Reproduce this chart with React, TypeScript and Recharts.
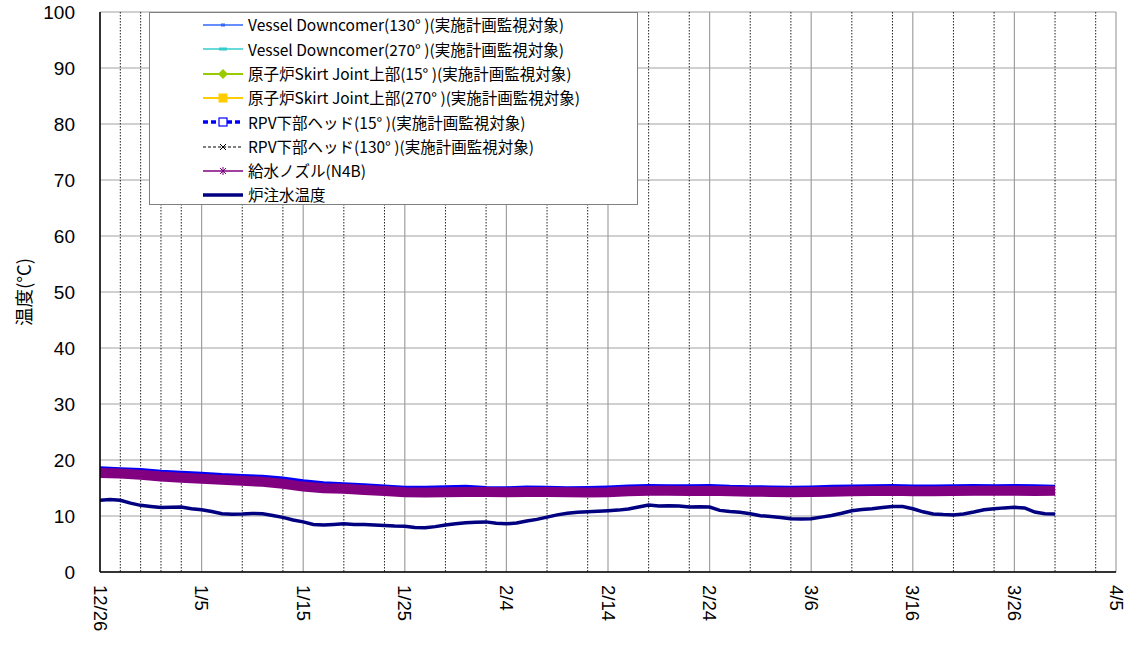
import React from 'react';
import { LineChart, Line, XAxis, YAxis, CartesianGrid, Legend } from 'recharts';

// x axis: days from 12/26
const majorTicks = [0, 10, 20, 30, 40, 50, 60, 70, 80, 90, 100];
const tickLabels = ['12/26', '1/5', '1/15', '1/25', '2/4', '2/14', '2/24', '3/6', '3/16', '3/26', '4/5'];
const minorTicks = Array.from({ length: 50 }, (_, i) => i * 2).filter((d) => d % 10 !== 0);
const yTicks = [0, 10, 20, 30, 40, 50, 60, 70, 80, 90, 100];

const seriesNames = [
  'Vessel Downcomer(130° )(実施計画監視対象)',
  'Vessel Downcomer(270° )(実施計画監視対象)',
  '原子炉Skirt Joint上部(15° )(実施計画監視対象)',
  '原子炉Skirt Joint上部(270° )(実施計画監視対象)',
  'RPV下部ヘッド(15° )(実施計画監視対象)',
  'RPV下部ヘッド(130° )(実施計画監視対象)',
  '給水ノズル(N4B)',
  '炉注水温度',
];

// every 2 days, 12/26 .. 3/30
const vessel130 = [18.1, 17.95, 17.75, 17.45, 17.3, 17.1, 16.9, 16.75, 16.55, 16.25, 15.75, 15.4, 15.25, 15.05, 14.85, 14.65, 14.6, 14.7, 14.75, 14.6, 14.55, 14.65, 14.65, 14.55, 14.6, 14.65, 14.8, 14.9, 14.9, 14.85, 14.9, 14.8, 14.75, 14.7, 14.65, 14.7, 14.75, 14.8, 14.85, 14.9, 14.8, 14.8, 14.85, 14.9, 14.9, 14.9, 14.85, 14.85];
const vessel270 = [17.9, 17.8, 17.55, 17.25, 17.05, 16.85, 16.65, 16.5, 16.3, 15.95, 15.45, 15.15, 15.05, 14.85, 14.65, 14.45, 14.4, 14.45, 14.5, 14.5, 14.45, 14.5, 14.5, 14.45, 14.4, 14.45, 14.6, 14.7, 14.7, 14.65, 14.7, 14.6, 14.55, 14.5, 14.45, 14.5, 14.55, 14.6, 14.65, 14.7, 14.6, 14.6, 14.65, 14.7, 14.7, 14.7, 14.65, 14.7];
const skirt15 = [17.5, 17.4, 17.15, 16.85, 16.65, 16.45, 16.25, 16.1, 15.9, 15.55, 15.05, 14.75, 14.65, 14.45, 14.25, 14.05, 14.0, 14.05, 14.1, 14.1, 14.05, 14.1, 14.1, 14.05, 14.0, 14.05, 14.2, 14.3, 14.3, 14.25, 14.3, 14.2, 14.15, 14.1, 14.05, 14.1, 14.15, 14.2, 14.25, 14.3, 14.2, 14.2, 14.25, 14.3, 14.3, 14.3, 14.25, 14.3];
const skirt270 = [17.35, 17.25, 17.0, 16.7, 16.5, 16.3, 16.1, 15.95, 15.75, 15.4, 14.9, 14.6, 14.5, 14.3, 14.1, 13.9, 13.85, 13.9, 13.95, 13.95, 13.9, 13.95, 13.95, 13.9, 13.85, 13.9, 14.05, 14.15, 14.15, 14.1, 14.15, 14.05, 14.0, 13.95, 13.9, 13.95, 14.0, 14.05, 14.1, 14.15, 14.05, 14.05, 14.1, 14.15, 14.15, 14.15, 14.1, 14.15];
const rpv15 = [18.55, 18.4, 18.25, 17.95, 17.75, 17.6, 17.35, 17.2, 17.05, 16.75, 16.25, 15.9, 15.7, 15.55, 15.3, 15.1, 15.1, 15.2, 15.25, 15.05, 15.0, 15.15, 15.1, 15.0, 15.05, 15.15, 15.3, 15.4, 15.35, 15.35, 15.4, 15.25, 15.2, 15.15, 15.1, 15.15, 15.25, 15.3, 15.35, 15.4, 15.3, 15.3, 15.35, 15.4, 15.35, 15.4, 15.35, 15.25];
const rpv130 = [17.8, 17.7, 17.45, 17.15, 16.95, 16.75, 16.55, 16.4, 16.2, 15.85, 15.35, 15.05, 14.95, 14.75, 14.55, 14.35, 14.3, 14.35, 14.4, 14.4, 14.35, 14.4, 14.4, 14.35, 14.3, 14.35, 14.5, 14.6, 14.6, 14.55, 14.6, 14.5, 14.45, 14.4, 14.35, 14.4, 14.45, 14.5, 14.55, 14.6, 14.5, 14.5, 14.55, 14.6, 14.6, 14.6, 14.55, 14.6];
const n4b = [17.7, 17.6, 17.35, 17.05, 16.85, 16.65, 16.45, 16.3, 16.1, 15.75, 15.25, 14.95, 14.85, 14.65, 14.45, 14.25, 14.2, 14.25, 14.3, 14.3, 14.25, 14.3, 14.3, 14.25, 14.2, 14.25, 14.4, 14.5, 14.5, 14.45, 14.5, 14.4, 14.35, 14.3, 14.25, 14.3, 14.35, 14.4, 14.45, 14.5, 14.4, 14.4, 14.45, 14.5, 14.5, 14.5, 14.45, 14.5];
// daily, 12/26 .. 3/30
const injection = [
  12.8, 12.95, 12.8, 12.3, 11.9, 11.7, 11.5, 11.55, 11.6, 11.3,
  11.1, 10.8, 10.4, 10.3, 10.35, 10.45, 10.4, 10.1, 9.75, 9.3,
  8.95, 8.5, 8.4, 8.5, 8.6, 8.5, 8.5, 8.4, 8.3, 8.2,
  8.15, 7.95, 7.9, 8.1, 8.4, 8.6, 8.8, 8.9, 8.95, 8.7,
  8.6, 8.75, 9.1, 9.4, 9.8, 10.2, 10.5, 10.65, 10.75, 10.85,
  10.95, 11.05, 11.25, 11.6, 11.95, 11.8, 11.85, 11.8, 11.6, 11.65,
  11.6, 11.0, 10.8, 10.65, 10.4, 10.05, 9.9, 9.75, 9.5, 9.45,
  9.5, 9.8, 10.1, 10.5, 10.95, 11.15, 11.3, 11.5, 11.7, 11.7,
  11.3, 10.75, 10.35, 10.25, 10.2, 10.35, 10.7, 11.1, 11.3, 11.45,
  11.55, 11.45, 10.7, 10.4, 10.35,
];

const every2 = (vals: number[]) => vals.map((v, i) => ({ day: i * 2, value: v }));
const daily = (vals: number[]) => vals.map((v, i) => ({ day: i, value: v }));

const series = [
  { data: every2(vessel130), color: '#3366ff', width: 1.5, dash: undefined, marker: 'dot' },
  { data: every2(vessel270), color: '#33cccc', width: 1.5, dash: undefined, marker: 'bar' },
  { data: every2(skirt15), color: '#99cc00', width: 2, dash: undefined, marker: 'diamond' },
  { data: every2(skirt270), color: '#ffcc00', width: 2, dash: undefined, marker: 'square' },
  { data: every2(rpv15), color: '#0000ff', width: 3.5, dash: undefined, marker: 'open' },
  { data: every2(rpv130), color: '#000000', width: 1, dash: '3 2', marker: 'x' },
  { data: every2(n4b), color: '#800080', width: 10, dash: undefined, marker: 'star' },
  { data: daily(injection), color: '#000080', width: 3.5, dash: undefined, marker: 'none' },
];

const legendDash = ['', '', '', '', '5 3', '3 2', '', ''];
const legendWidth = [1.5, 1.5, 2, 2, 3.5, 1, 1.5, 3.5];

const numFont = '"Liberation Sans", Arial, sans-serif';
const jpFont = '"Noto Sans CJK JP", sans-serif';

function Marker({ kind, color }: { kind: string; color: string }) {
  switch (kind) {
    case 'dot':
      return <rect x={18} y={6.5} width={4} height={3} fill={color} />;
    case 'bar':
      return <rect x={16} y={6.5} width={8} height={3} fill={color} />;
    case 'diamond':
      return <polygon points="20,3 25,8 20,13 15,8" fill={color} />;
    case 'square':
      return <rect x={15.5} y={3.5} width={9} height={9} fill={color} />;
    case 'open':
      return <rect x={16} y={4} width={8} height={8} fill="#fff" stroke={color} strokeWidth={1.2} />;
    case 'x':
      return (
        <g stroke={color} strokeWidth={1}>
          <line x1={17} y1={5} x2={23} y2={11} />
          <line x1={17} y1={11} x2={23} y2={5} />
        </g>
      );
    case 'star':
      return (
        <g stroke={color} strokeWidth={1}>
          <line x1={17} y1={5} x2={23} y2={11} />
          <line x1={17} y1={11} x2={23} y2={5} />
          <line x1={20} y1={4} x2={20} y2={12} />
        </g>
      );
    default:
      return null;
  }
}

function LegendBox() {
  return (
    <div
      style={{
        width: 489,
        height: 193,
        boxSizing: 'border-box',
        border: '1px solid #808080',
        background: '#fff',
      }}
    >
      {seriesNames.map((name, i) => (
        <div key={name} style={{ display: 'flex', alignItems: 'center', height: 24.3 }}>
          <svg width={40} height={16} style={{ marginLeft: 53, flexShrink: 0 }}>
            <line
              x1={0}
              y1={8}
              x2={40}
              y2={8}
              stroke={series[i].color}
              strokeWidth={legendWidth[i]}
              strokeDasharray={legendDash[i] || undefined}
            />
            <Marker kind={series[i].marker} color={series[i].color} />
          </svg>
          <span
            style={{
              marginLeft: 5,
              fontFamily: jpFont,
              fontSize: 15.5,
              color: '#000',
              whiteSpace: 'pre',
              lineHeight: 1,
            }}
          >
            {name}
          </span>
        </div>
      ))}
    </div>
  );
}

const XTick = (props: any) => {
  const { x, y, payload } = props;
  const label = tickLabels[majorTicks.indexOf(payload.value)];
  return (
    <g transform={`translate(${x},${y})`}>
      <text transform="rotate(90)" x={13} y={0} dy="0.35em" textAnchor="start" fontSize={18.5} fontFamily={numFont} fill="#000">
        {label}
      </text>
    </g>
  );
};

const YTick = (props: any) => {
  const { x, y, payload } = props;
  return (
    <text x={x - 25} y={y} dy="0.35em" textAnchor="end" fontSize={19} fontFamily={numFont} fill="#000">
      {payload.value}
    </text>
  );
};

export default function App() {
  return (
    <div style={{ position: 'absolute', left: 0, top: 0, width: 1142, height: 645, background: '#fff' }}>
      <LineChart width={1142} height={645} margin={{ top: 12, right: 26, bottom: 0, left: 0 }}>
        <CartesianGrid vertical={false} stroke="#c0c0c0" strokeWidth={1.5} />
        <CartesianGrid horizontal={false} verticalValues={majorTicks} stroke="#a0a0a0" strokeWidth={1.2} />
        <CartesianGrid horizontal={false} verticalValues={minorTicks} stroke="#222" strokeWidth={1} strokeDasharray="1.5 1.5" />
        <XAxis
          type="number"
          dataKey="day"
          domain={[0, 100]}
          ticks={majorTicks}
          height={73}
          tickSize={0}
          tickMargin={0}
          tickLine={false}
          tick={<XTick />}
          axisLine={{ stroke: '#000', strokeWidth: 1.5 }}
          allowDataOverflow
        />
        <YAxis
          domain={[0, 100]}
          ticks={yTicks}
          width={100}
          tickSize={0}
          tickMargin={0}
          tickLine={false}
          tick={<YTick />}
          axisLine={{ stroke: '#000', strokeWidth: 1.5 }}
          label={{
            value: '温度(°C)',
            angle: -90,
            position: 'insideLeft',
            offset: 24,
            style: { fontFamily: jpFont, fontSize: 18.5, fill: '#000', textAnchor: 'middle' },
          }}
        />
        {series.map((s, i) => (
          <Line
            key={seriesNames[i]}
            data={s.data}
            dataKey="value"
            name={seriesNames[i]}
            type="linear"
            stroke={s.color}
            strokeWidth={s.width}
            strokeDasharray={s.dash}
            dot={false}
            activeDot={false}
            isAnimationActive={false}
          />
        ))}
        <Legend
          layout="vertical"
          align="center"
          verticalAlign="middle"
          content={() => <LegendBox />}
          wrapperStyle={{ position: 'absolute', left: 149, top: 12, width: 489, height: 193 }}
        />
      </LineChart>
    </div>
  );
}
